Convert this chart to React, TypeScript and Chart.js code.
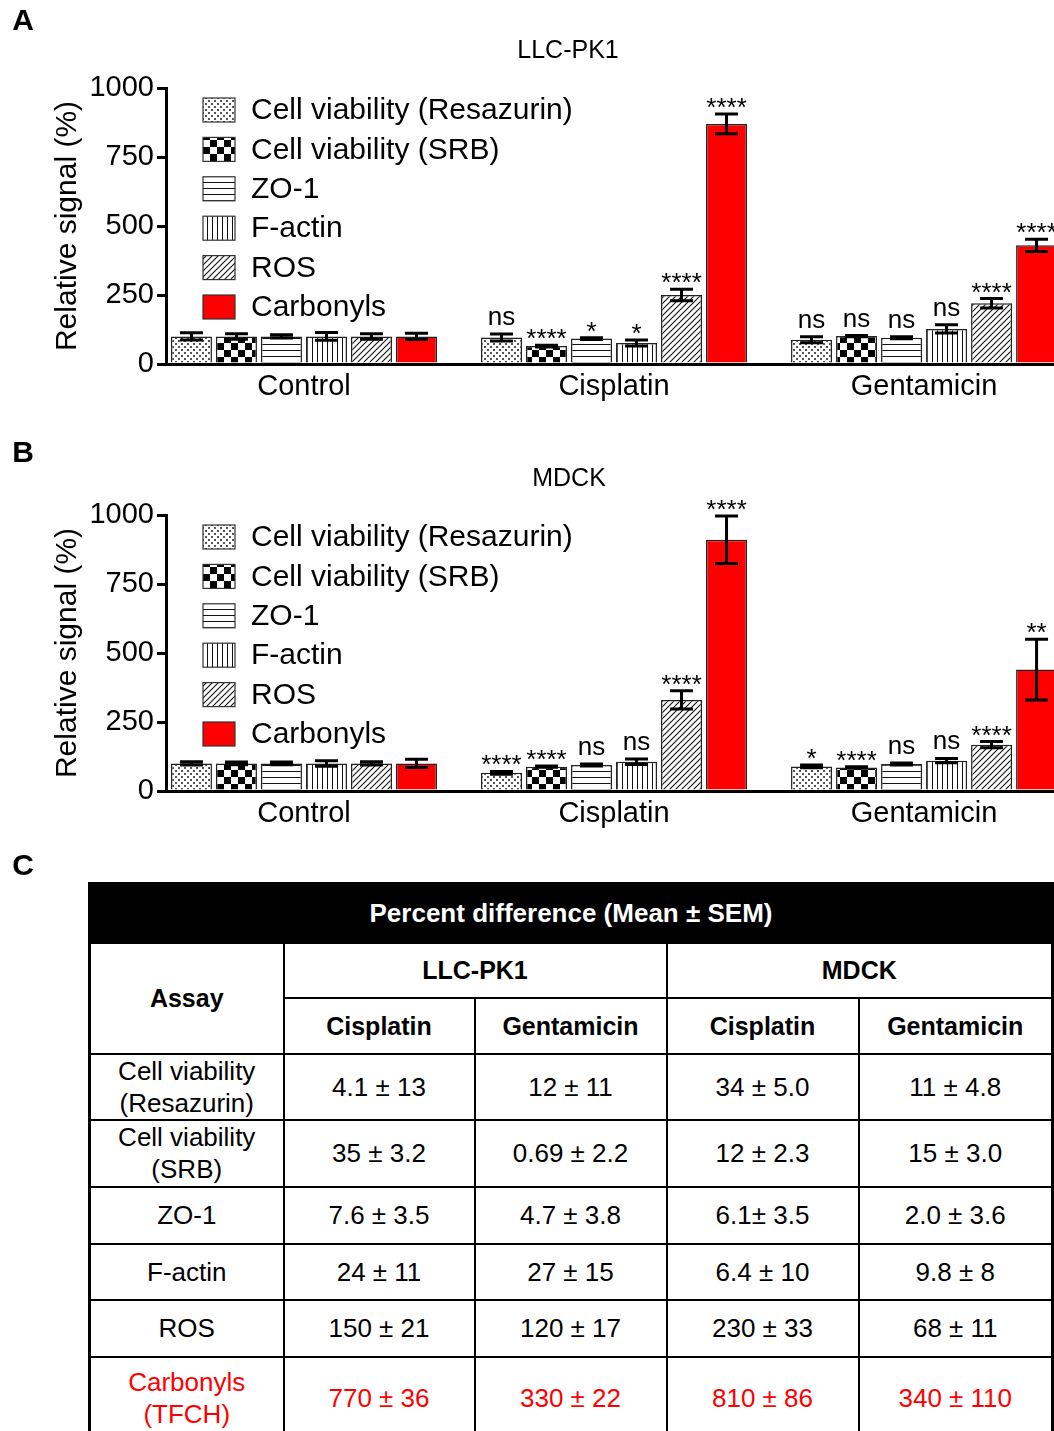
import React, { useEffect, useRef } from 'react';
import { Chart, registerables } from 'chart.js';

Chart.register(...registerables);

const FONT = '"Liberation Sans", Arial, Helvetica, sans-serif';

// ---------- chart data ----------
const categories = ['Control', 'Cisplatin', 'Gentamicin'];
const seriesLabels = ['Cell viability (Resazurin)', 'Cell viability (SRB)', 'ZO-1', 'F-actin', 'ROS', 'Carbonyls'];
const yTicks = [0, 250, 500, 750, 1000];

// Panel A: LLC-PK1 (values per category: Control, Cisplatin, Gentamicin)
const llcResazurin = [100, 96, 88];
const llcSrb = [100, 65, 101];
const llcZo1 = [100, 92, 95];
const llcFactin = [100, 76, 127];
const llcRos = [100, 250, 220];
const llcCarbonyls = [100, 870, 430];

const llcResazurinSem = [13, 13, 11];
const llcSrbSem = [10, 3.2, 2.2];
const llcZo1Sem = [6, 3.5, 3.8];
const llcFactinSem = [14, 11, 15];
const llcRosSem = [10, 21, 17];
const llcCarbonylsSem = [11, 36, 22];

const llcResazurinSig = ['', 'ns', 'ns'];
const llcSrbSig = ['', '****', 'ns'];
const llcZo1Sig = ['', '*', 'ns'];
const llcFactinSig = ['', '*', 'ns'];
const llcRosSig = ['', '****', '****'];
const llcCarbonylsSig = ['', '****', '****'];

// Panel B: MDCK
const mdckResazurin = [100, 66, 89];
const mdckSrb = [100, 88, 85];
const mdckZo1 = [100, 94, 98];
const mdckFactin = [100, 106, 110];
const mdckRos = [100, 330, 168];
const mdckCarbonyls = [100, 910, 440];

const mdckResazurinSem = [6, 5.0, 4.8];
const mdckSrbSem = [5, 2.3, 3.0];
const mdckZo1Sem = [5, 3.5, 3.6];
const mdckFactinSem = [10, 10, 8];
const mdckRosSem = [6, 33, 11];
const mdckCarbonylsSem = [15, 86, 110];

const mdckResazurinSig = ['', '****', '*'];
const mdckSrbSig = ['', '****', '****'];
const mdckZo1Sig = ['', 'ns', 'ns'];
const mdckFactinSig = ['', 'ns', 'ns'];
const mdckRosSig = ['', '****', '****'];
const mdckCarbonylsSig = ['', '****', '**'];

// ---------- table data ----------
const tableTitle = 'Percent difference (Mean ± SEM)';
const tableCellLines = ['LLC-PK1', 'MDCK'];
const tableTreatments = ['Cisplatin', 'Gentamicin'];
const tableAssays = [
  ['Cell viability', '(Resazurin)'],
  ['Cell viability', '(SRB)'],
  ['ZO-1'],
  ['F-actin'],
  ['ROS'],
  ['Carbonyls', '(TFCH)'],
];
const tableLlcCisplatin = ['4.1 ± 13', '35 ± 3.2', '7.6 ± 3.5', '24 ± 11', '150 ± 21', '770 ± 36'];
const tableLlcGentamicin = ['12 ± 11', '0.69 ± 2.2', '4.7 ± 3.8', '27 ± 15', '120 ± 17', '330 ± 22'];
const tableMdckCisplatin = ['34 ± 5.0', '12 ± 2.3', '6.1± 3.5', '6.4 ± 10', '230 ± 33', '810 ± 86'];
const tableMdckGentamicin = ['11 ± 4.8', '15 ± 3.0', '2.0 ± 3.6', '9.8 ± 8', '68 ± 11', '340 ± 110'];

// ---------- patterns ----------
function makePatterns(): (CanvasPattern | string)[] {
  const mk = (w: number, h: number, draw: (g: CanvasRenderingContext2D) => void) => {
    const c = document.createElement('canvas');
    c.width = w;
    c.height = h;
    const g = c.getContext('2d') as CanvasRenderingContext2D;
    g.fillStyle = '#fff';
    g.fillRect(0, 0, w, h);
    draw(g);
    return g.createPattern(c, 'repeat') as CanvasPattern;
  };
  const dots = mk(6, 6, (g) => {
    g.fillStyle = '#555';
    g.fillRect(1, 1, 2, 2);
    g.fillRect(4, 4, 2, 2);
  });
  const checker = mk(14, 14, (g) => {
    g.fillStyle = '#000';
    g.fillRect(0, 0, 7, 7);
    g.fillRect(7, 7, 7, 7);
  });
  const hlines = mk(6, 6, (g) => {
    g.fillStyle = '#111';
    g.fillRect(0, 2, 6, 1);
  });
  const vlines = mk(5, 6, (g) => {
    g.fillStyle = '#111';
    g.fillRect(2, 0, 1, 6);
  });
  const diag = mk(6, 6, (g) => {
    g.strokeStyle = '#111';
    g.lineWidth = 1.1;
    g.beginPath();
    g.moveTo(-1, 7);
    g.lineTo(7, -1);
    g.moveTo(-1, 1);
    g.lineTo(1, -1);
    g.moveTo(5, 7);
    g.lineTo(7, 5);
    g.stroke();
  });
  return [dots, checker, hlines, vlines, diag, '#ff0000'];
}

// ---------- plugins ----------
const patternLegend = {
  id: 'patternLegend',
  afterDraw(chart: any, _args: any, opts: any) {
    const { ctx, chartArea } = chart;
    ctx.save();
    chart.data.datasets.forEach((ds: any, i: number) => {
      const cy = chartArea.top + opts.firstRow + i * opts.rowGap;
      const x = chartArea.left + opts.boxOffset;
      ctx.fillStyle = ds.backgroundColor;
      ctx.fillRect(x, cy - 12, 32, 24);
      ctx.strokeStyle = '#333';
      ctx.lineWidth = 1.2;
      ctx.strokeRect(x, cy - 12, 32, 24);
      ctx.fillStyle = '#000';
      ctx.font = `30px ${FONT}`;
      ctx.textBaseline = 'middle';
      ctx.textAlign = 'left';
      ctx.fillText(ds.label, x + 48, cy + 1);
    });
    ctx.restore();
  },
};

const errorBars = {
  id: 'errorBars',
  afterDatasetsDraw(chart: any, _args: any, opts: any) {
    const { ctx } = chart;
    const yScale = chart.scales.y;
    ctx.save();
    chart.data.datasets.forEach((ds: any, i: number) => {
      const meta = chart.getDatasetMeta(i);
      meta.data.forEach((bar: any, j: number) => {
        const v = ds.data[j].y;
        const e = opts.errors[i][j];
        const yT = yScale.getPixelForValue(v + e);
        const yB = yScale.getPixelForValue(v - e);
        const half = bar.width * 0.28;
        ctx.strokeStyle = '#000';
        ctx.lineWidth = 3;
        ctx.beginPath();
        ctx.moveTo(bar.x, yT);
        ctx.lineTo(bar.x, yB);
        ctx.moveTo(bar.x - half, yT);
        ctx.lineTo(bar.x + half, yT);
        ctx.moveTo(bar.x - half, yB);
        ctx.lineTo(bar.x + half, yB);
        ctx.stroke();
        const s = opts.sigs[i][j];
        if (s) {
          ctx.fillStyle = '#000';
          ctx.font = `26px ${FONT}`;
          ctx.textAlign = 'center';
          ctx.textBaseline = 'alphabetic';
          const y = s === 'ns' ? yT - 9 : yT + 2;
          ctx.fillText(s, bar.x, y);
        }
      });
    });
    ctx.restore();
  },
};

function buildConfig(values: number[][], errors: number[][], sigs: string[][], patterns: any[]) {
  return {
    type: 'bar',
    data: {
      datasets: seriesLabels.map((label, i) => ({
        label,
        data: values[i].map((v, k) => ({ x: k, y: v })),
        backgroundColor: patterns[i],
        borderColor: '#222',
        borderWidth: 1.5,
        categoryPercentage: 0.871,
        barPercentage: 0.911,
      })),
    },
    options: {
      animation: false,
      responsive: false,
      devicePixelRatio: 1,
      layout: { padding: { left: 0, top: 88, right: 30, bottom: 0 } },
      scales: {
        x: {
          type: 'linear',
          offset: false,
          bounds: 'data',
          min: -0.445,
          max: 2.632,
          afterBuildTicks: (s: any) => {
            s.ticks = categories.map((_, k) => ({ value: k }));
          },
          afterFit: (s: any) => {
            s.height = 56;
          },
          ticks: {
            callback: (v: any) => categories[v] ?? '',
            font: { size: 29, family: FONT },
            color: '#000',
            padding: 6,
            autoSkip: false,
            maxRotation: 0,
          },
          grid: { display: false, drawTicks: false, offset: false },
          border: { display: true, color: '#000', width: 3 },
        },
        y: {
          min: 0,
          max: 1000,
          afterBuildTicks: (s: any) => {
            s.ticks = yTicks.map((v) => ({ value: v }));
          },
          afterFit: (s: any) => {
            s.width = 166;
          },
          ticks: {
            font: { size: 29, family: FONT },
            color: '#000',
            padding: 3,
            callback: (v: any) => String(v),
          },
          grid: {
            display: true,
            drawOnChartArea: false,
            drawTicks: true,
            tickLength: 9,
            tickWidth: 3,
            lineWidth: 3,
            color: '#000',
          },
          border: { display: true, color: '#000', width: 3 },
          title: {
            display: true,
            text: 'Relative signal (%)',
            font: { size: 30, family: FONT },
            color: '#000',
            padding: { top: 50, bottom: 0 },
          },
        },
      },
      plugins: {
        legend: { display: false },
        tooltip: { enabled: false },
        patternLegend: { firstRow: 22, rowGap: 39.4, boxOffset: 37 },
        errorBars: { errors, sigs },
      },
    },
    plugins: [patternLegend, errorBars],
  } as any;
}

function BarPanel({ values, errors, sigs, top }: { values: number[][]; errors: number[][]; sigs: string[][]; top: number }) {
  const ref = useRef<HTMLCanvasElement>(null);
  useEffect(() => {
    if (!ref.current) return;
    const chart = new Chart(ref.current, buildConfig(values, errors, sigs, makePatterns()));
    return () => chart.destroy();
  }, []);
  return (
    <canvas
      ref={ref}
      width={1150}
      height={420}
      style={{ position: 'absolute', left: 0, top, width: 1150, height: 420 }}
    />
  );
}

const abs = (x: number, y: number, extra: React.CSSProperties = {}): React.CSSProperties => ({
  position: 'absolute',
  left: x,
  top: y,
  transform: 'translate(-50%, -50%)',
  whiteSpace: 'nowrap',
  fontFamily: FONT,
  color: '#000',
  ...extra,
});

export default function App() {
  const llcValues = [llcResazurin, llcSrb, llcZo1, llcFactin, llcRos, llcCarbonyls];
  const llcErrors = [llcResazurinSem, llcSrbSem, llcZo1Sem, llcFactinSem, llcRosSem, llcCarbonylsSem];
  const llcSigs = [llcResazurinSig, llcSrbSig, llcZo1Sig, llcFactinSig, llcRosSig, llcCarbonylsSig];
  const mdckValues = [mdckResazurin, mdckSrb, mdckZo1, mdckFactin, mdckRos, mdckCarbonyls];
  const mdckErrors = [mdckResazurinSem, mdckSrbSem, mdckZo1Sem, mdckFactinSem, mdckRosSem, mdckCarbonylsSem];
  const mdckSigs = [mdckResazurinSig, mdckSrbSig, mdckZo1Sig, mdckFactinSig, mdckRosSig, mdckCarbonylsSig];

  const cell: React.CSSProperties = {
    border: '2px solid #000',
    padding: 0,
    textAlign: 'center',
    verticalAlign: 'middle',
    lineHeight: '32px',
  };
  const bold: React.CSSProperties = { ...cell, fontWeight: 'bold', fontSize: 25 };
  const rowHeights = [66, 67, 57, 56, 57, 84];

  return (
    <div
      style={{
        position: 'absolute',
        left: 0,
        top: 0,
        width: 1054,
        height: 1431,
        overflow: 'hidden',
        background: '#fff',
      }}
    >
      <BarPanel values={llcValues} errors={llcErrors} sigs={llcSigs} top={0} />
      <BarPanel values={mdckValues} errors={mdckErrors} sigs={mdckSigs} top={427} />

      <div style={abs(23, 20, { fontWeight: 'bold', fontSize: 30 })}>A</div>
      <div style={abs(23, 452, { fontWeight: 'bold', fontSize: 30 })}>B</div>
      <div style={abs(23, 865, { fontWeight: 'bold', fontSize: 30 })}>C</div>
      <div style={abs(568, 49, { fontSize: 25 })}>LLC-PK1</div>
      <div style={abs(569, 477, { fontSize: 25 })}>MDCK</div>

      <table
        style={{
          position: 'absolute',
          left: 88,
          top: 882,
          width: 963,
          borderCollapse: 'collapse',
          tableLayout: 'fixed',
          fontFamily: FONT,
          fontSize: 26,
          color: '#000',
          border: '3px solid #000',
        }}
      >
        <colgroup>
          <col style={{ width: 194 }} />
          <col style={{ width: 191 }} />
          <col style={{ width: 192 }} />
          <col style={{ width: 192 }} />
          <col style={{ width: 194 }} />
        </colgroup>
        <tbody>
          <tr style={{ height: 59 }}>
            <td colSpan={5} style={{ ...bold, background: '#000', color: '#fff', fontSize: 26 }}>
              {tableTitle}
            </td>
          </tr>
          <tr style={{ height: 55 }}>
            <td rowSpan={2} style={bold}>Assay</td>
            {tableCellLines.map((c) => (
              <td key={c} colSpan={2} style={bold}>{c}</td>
            ))}
          </tr>
          <tr style={{ height: 56 }}>
            {tableCellLines.map((c) =>
              tableTreatments.map((t) => (
                <td key={c + t} style={bold}>{t}</td>
              ))
            )}
          </tr>
          {tableAssays.map((lines, r) => {
            const red = r === tableAssays.length - 1;
            const st: React.CSSProperties = { ...cell, color: red ? '#ff0000' : '#000' };
            return (
              <tr key={r} style={{ height: rowHeights[r] }}>
                <td style={st}>
                  {lines.map((l, k) => (
                    <div key={k}>{l}</div>
                  ))}
                </td>
                <td style={st}>{tableLlcCisplatin[r]}</td>
                <td style={st}>{tableLlcGentamicin[r]}</td>
                <td style={st}>{tableMdckCisplatin[r]}</td>
                <td style={st}>{tableMdckGentamicin[r]}</td>
              </tr>
            );
          })}
        </tbody>
      </table>
    </div>
  );
}
